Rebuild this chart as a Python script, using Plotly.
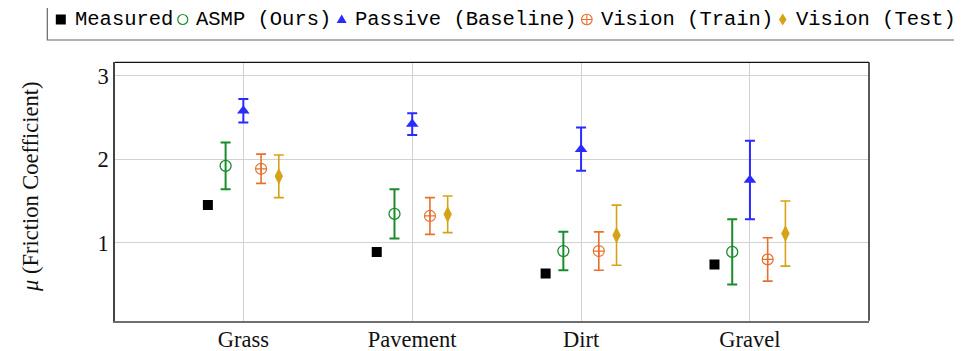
import plotly.graph_objects as go

# ---------------- data ----------------
categories = ["Grass", "Pavement", "Dirt", "Gravel"]
measured = [1.45, 0.89, 0.63, 0.74]
asmp_mean = [1.92, 1.345, 0.90, 0.89]
asmp_err = [0.28, 0.295, 0.23, 0.39]
passive_mean = [2.58, 2.42, 2.12, 1.75]
passive_err = [0.14, 0.13, 0.26, 0.47]
vtrain_mean = [1.885, 1.32, 0.90, 0.80]
vtrain_err = [0.175, 0.22, 0.23, 0.26]
vtest_mean = [1.795, 1.34, 1.09, 1.11]
vtest_err = [0.255, 0.22, 0.36, 0.39]
y_ticks = [1, 2, 3]
legend_labels = ["Measured", "ASMP (Ours)", "Passive (Baseline)", "Vision (Train)", "Vision (Test)"]

# ---------------- style ----------------
OFF = 8                    # page body margin of the browser
W, H = 962 - OFF, 351 - OFF
BLACK = "#000000"
GREEN = "#1b8c2c"
BLUE = "#2b2bff"
ORANGE = "#e8702f"
GOLD = "#d6a216"
SERIF = "Liberation Serif"
MONO = "Liberation Mono"

offsets = [-0.21, -0.105, 0.0, 0.105, 0.21]
xpos = list(range(len(categories)))


def shifted(off):
    return [x + off for x in xpos]


fig = go.Figure()

fig.add_trace(go.Scatter(
    x=shifted(offsets[0]), y=measured, mode="markers", name=legend_labels[0],
    marker=dict(symbol="square", size=10, color=BLACK, line=dict(width=0)),
))
fig.add_trace(go.Scatter(
    x=shifted(offsets[1]), y=asmp_mean, mode="markers", name=legend_labels[1],
    marker=dict(symbol="circle-open", size=11, color=GREEN, line=dict(width=1.3, color=GREEN)),
    error_y=dict(type="data", array=asmp_err, color=GREEN, thickness=2, width=5),
))
fig.add_trace(go.Scatter(
    x=shifted(offsets[2]), y=passive_mean, mode="markers", name=legend_labels[2],
    marker=dict(symbol="triangle-up", size=11, color=BLUE, line=dict(width=0)),
    error_y=dict(type="data", array=passive_err, color=BLUE, thickness=2, width=5),
))
fig.add_trace(go.Scatter(
    x=shifted(offsets[3]), y=vtrain_mean, mode="markers", name=legend_labels[3],
    marker=dict(symbol="circle-cross-open", size=11, color=ORANGE, line=dict(width=1.2, color=ORANGE)),
    error_y=dict(type="data", array=vtrain_err, color=ORANGE, thickness=1.6, width=5),
))
fig.add_trace(go.Scatter(
    x=shifted(offsets[4]), y=vtest_mean, mode="markers", name=legend_labels[4],
    marker=dict(symbol="diamond-tall", size=12, color=GOLD, line=dict(width=0)),
    error_y=dict(type="data", array=vtest_err, color=GOLD, thickness=1.6, width=5),
))

# ---------------- layout geometry (window pixels) ----------------
PL, PR, PT, PB = 115, 869, 62.3, 320.7


def px_x(v):
    return (v - OFF) / W


def px_y(v):
    return (H - (v - OFF)) / H


shapes = []
# top and right frame lines
shapes.append(dict(type="line", xref="paper", yref="paper", x0=px_x(PL), x1=px_x(PR),
                   y0=px_y(PT), y1=px_y(PT), line=dict(color="#111111", width=1.2)))
shapes.append(dict(type="line", xref="paper", yref="paper", x0=px_x(PR), x1=px_x(PR),
                   y0=px_y(PT), y1=px_y(PB), line=dict(color="#222222", width=1.5)))

# legend box
shapes.append(dict(type="rect", xref="paper", yref="paper", x0=px_x(47.3), x1=1.05,
                   y0=px_y(40), y1=1.05, line=dict(color="#666666", width=1.2),
                   fillcolor="rgba(0,0,0,0)"))

annotations = []
cw = 12.32   # monospace character advance
gap = 23.4   # space between one label's end and the next label's start
legend_y = 19.5
t_start = 72.5
marker_defs = [
    ("rect", BLACK, None),
    ("circle", GREEN, None),
    ("path", BLUE, "M -5,-3.5 L 5,-3.5 L 0,5 Z"),
    ("oplus", ORANGE, None),
    ("path", GOLD, "M 0,6 L 3.8,0 L 0,-6 L -3.8,0 Z"),
]
for label, (kind, col, path) in zip(legend_labels, marker_defs):
    mx = t_start - gap / 2
    base = dict(xref="paper", yref="paper", xsizemode="pixel", ysizemode="pixel",
                xanchor=px_x(mx), yanchor=px_y(legend_y))
    if kind == "rect":
        shapes.append(dict(base, type="rect", x0=-5, x1=5, y0=-5, y1=5,
                           fillcolor=col, line=dict(width=0)))
    elif kind == "circle":
        shapes.append(dict(base, type="circle", x0=-5, x1=5, y0=-5, y1=5,
                           fillcolor="rgba(0,0,0,0)", line=dict(color=col, width=1.2)))
    elif kind == "oplus":
        shapes.append(dict(base, type="circle", x0=-5.3, x1=5.3, y0=-5.3, y1=5.3,
                           fillcolor="rgba(0,0,0,0)", line=dict(color=col, width=1.1)))
        shapes.append(dict(base, type="path", path="M -5.3,0 L 5.3,0 M 0,-5.3 L 0,5.3",
                           line=dict(color=col, width=1.1)))
    else:
        shapes.append(dict(base, type="path", path=path, fillcolor=col, line=dict(width=0)))
    annotations.append(dict(xref="paper", yref="paper", x=px_x(t_start), y=px_y(legend_y),
                            xanchor="left", yanchor="middle", showarrow=False, text=label,
                            font=dict(family=MONO, size=20.5, color="#000000")))
    t_start = t_start + len(label) * cw + gap

# y-axis title
annotations.append(dict(xref="paper", yref="paper", x=px_x(30), y=px_y(187),
                        xanchor="center", yanchor="middle", textangle=-90, showarrow=False,
                        text="<i>μ</i> (Friction Coefficient)",
                        font=dict(family=SERIF, size=22.5, color="#111111")))

fig.update_layout(
    width=W, height=H, autosize=False,
    margin=dict(l=0, r=0, t=0, b=0, pad=0),
    paper_bgcolor="white", plot_bgcolor="white",
    showlegend=False,
    shapes=shapes, annotations=annotations,
    xaxis=dict(domain=[px_x(PL), px_x(PR)], range=[-0.76, 3.705],
               tickmode="array", tickvals=xpos, ticktext=categories,
               showgrid=True, gridcolor="#d2d2d2", gridwidth=1.2, zeroline=False,
               showline=True, linecolor="#6e6e6e", linewidth=2, ticks="",
               ticklabelstandoff=-3,
               tickfont=dict(family=SERIF, size=22.5, color="#111111"), automargin=False),
    yaxis=dict(domain=[px_y(PB), px_y(PT)], range=[0.066, 3.16],
               tickmode="array", tickvals=y_ticks, ticktext=[str(v) for v in y_ticks],
               showgrid=True, gridcolor="#d2d2d2", gridwidth=1.2, zeroline=False,
               showline=True, linecolor="#444444", linewidth=1.6, ticks="",
               tickfont=dict(family=SERIF, size=22.5, color="#111111"), automargin=False),
)

fig.write_html("out.html")
